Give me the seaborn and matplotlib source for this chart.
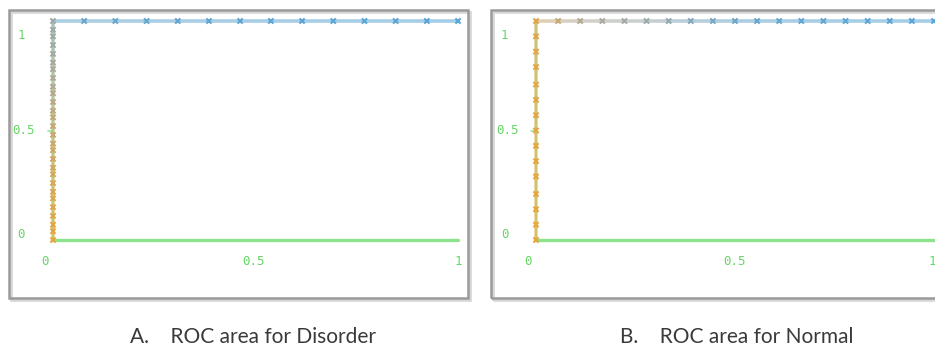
import numpy as np
import matplotlib
matplotlib.use("Agg")
import matplotlib.pyplot as plt
import seaborn as sns
from matplotlib.colors import LinearSegmentedColormap
from matplotlib.collections import LineCollection
from matplotlib.patches import Rectangle

# ROC points (false positive rate, true positive rate) and threshold colour value
disorder_fpr = [0.0] * 28 + [0.077, 0.154, 0.231, 0.308, 0.385, 0.462, 0.538,
                             0.615, 0.692, 0.769, 0.846, 0.923, 1.0]
disorder_tpr = [0.0, 0.04, 0.07, 0.11, 0.15, 0.19, 0.22, 0.26, 0.30, 0.33, 0.37,
                0.41, 0.44, 0.48, 0.52, 0.56, 0.59, 0.63, 0.67, 0.70, 0.74, 0.78,
                0.81, 0.85, 0.89, 0.93, 0.96, 1.0] + [1.0] * 13
disorder_thr = [0.98, 0.96, 0.95, 0.93, 0.92, 0.90, 0.89, 0.87, 0.85, 0.83, 0.81,
                0.79, 0.77, 0.75, 0.72, 0.70, 0.67, 0.64, 0.61, 0.58, 0.55, 0.52,
                0.50, 0.48, 0.47, 0.46, 0.45, 0.44,
                0.10, 0.09, 0.08, 0.07, 0.06, 0.05, 0.04, 0.04, 0.03, 0.02, 0.02, 0.01, 0.0]

normal_fpr = [0.0] * 15 + [0.055, 0.11, 0.165, 0.22, 0.275, 0.33, 0.385, 0.44, 0.495,
                           0.55, 0.605, 0.66, 0.715, 0.77, 0.825, 0.88, 0.935, 0.99]
normal_tpr = [0.0, 0.07, 0.14, 0.21, 0.29, 0.36, 0.43, 0.50, 0.57, 0.64, 0.71, 0.79,
              0.86, 0.93, 1.0] + [1.0] * 18
normal_thr = [1.0, 1.0, 0.99, 0.99, 0.98, 0.98, 0.97, 0.97, 0.96, 0.96, 0.95, 0.95,
              0.94, 0.93, 0.92,
              0.72, 0.58, 0.52, 0.48, 0.44, 0.38, 0.28, 0.20, 0.14, 0.10, 0.08,
              0.06, 0.05, 0.04, 0.03, 0.02, 0.01, 0.0]

captions = ["A.    ROC area for Disorder", "B.    ROC area for Normal"]

sns.set_style("white")
W, H = 935, 349
fig = plt.figure(figsize=(W / 100, H / 100), dpi=100)
fig.patch.set_facecolor("white")

cmap = LinearSegmentedColormap.from_list("thr", ["#5aa6d6", "#a9aaa4", "#e9a73c"])
green = "#6fdc6f"


def px_rect(x0, y0, x1, y1):
    # pixel box (top-left origin) -> figure fraction [l, b, w, h]
    return [x0 / W, (H - y1) / H, (x1 - x0) / W, (y1 - y0) / H]


def frame(x0, y0, x1, y1):
    l, b, w, h = px_rect(x0, y0, x1, y1)
    fig.patches.append(Rectangle((l + 2 / W, b - 2 / H), w, h, transform=fig.transFigure,
                                 facecolor="none", edgecolor="#d8d8d8", lw=2.0))
    fig.patches.append(Rectangle((l, b), w, h, transform=fig.transFigure,
                                 facecolor="none", edgecolor="#9a9a9a", lw=1.8))


def panel(x0, x1, fpr, tpr, thr, last_x=1.0):
    ax = fig.add_axes(px_rect(x0, 21, x1, 240))
    ax.set_xlim(0, 1)
    ax.set_ylim(0, 1)
    ax.axis("off")
    ax.plot([0, 1], [0, 0], color=green, lw=2.4, alpha=0.8, clip_on=False)
    ax.plot([0, 0], [0, 1], color=green, lw=1.5, alpha=0.6, clip_on=False)
    pts = np.column_stack([fpr, tpr])
    segs = np.stack([pts[:-1], pts[1:]], axis=1)
    lc = LineCollection(segs, cmap=cmap, norm=plt.Normalize(0, 1), lw=2.6, alpha=0.55,
                        clip_on=False)
    lc.set_array(np.array(thr[1:]))
    ax.add_collection(lc)
    sns.scatterplot(x=fpr, y=tpr, hue=thr, palette=cmap, hue_norm=(0, 1), marker="x",
                    s=14, linewidth=1.5, legend=False, ax=ax, clip_on=False, zorder=3)
    kw = dict(color="#66d666", fontsize=9, family="DejaVu Sans Mono", ha="center",
              va="center", clip_on=False)
    ax.text(-0.078, 0.936, "1", **kw)
    ax.text(-0.072, 0.502, "0.5", **kw)
    ax.text(-0.078, 0.023, "0", **kw)
    ax.plot([-0.012, -0.002], [0.50, 0.50], color=green, lw=1.2, alpha=0.7, clip_on=False)
    ax.text(-0.02, -0.10, "0", **kw)
    ax.text(0.494, -0.10, "0.5", **kw)
    ax.text(last_x, -0.10, "1", **kw)
    return ax


frame(9, 10, 468, 298)
frame(491, 10, 945, 298)
panel(53, 458, disorder_fpr, disorder_tpr, disorder_thr)
panel(536, 938, normal_fpr, normal_tpr, normal_thr, last_x=0.985)

fig.text(253 / W, 1 - 337 / H, captions[0], ha="center", va="center",
         fontsize=15, family="Lato", color="#3a3a3a")
fig.text(737 / W, 1 - 337 / H, captions[1], ha="center", va="center",
         fontsize=15, family="Lato", color="#3a3a3a")

fig.savefig("out.png", dpi=100)
